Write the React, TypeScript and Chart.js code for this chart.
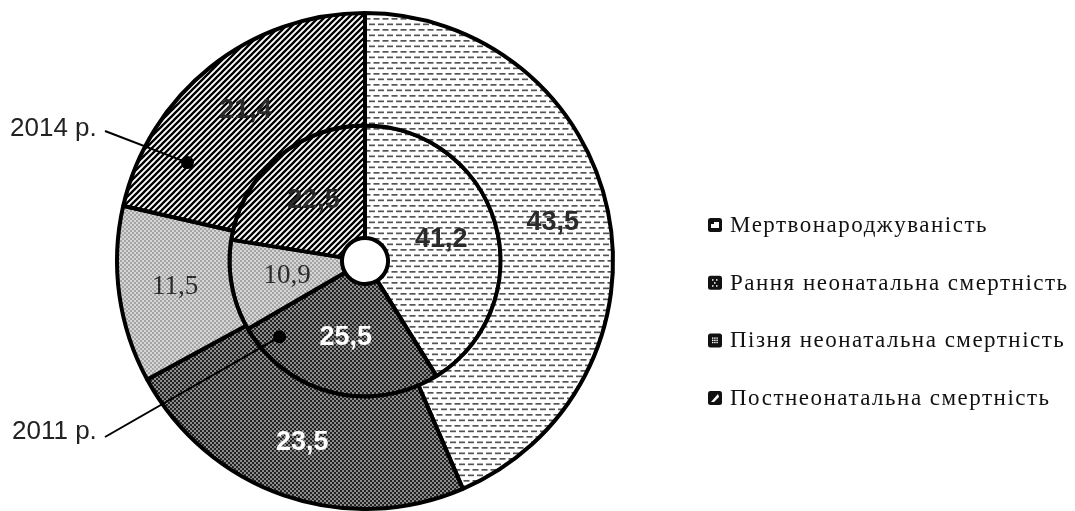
import React, { useEffect, useRef } from 'react';
import { Chart, registerables } from 'chart.js';

Chart.register(...registerables);

// categories (clockwise from 12 o'clock)
const categories = [
  'Мертвонароджуваність',
  'Рання неонатальна смертність',
  'Пізня неонатальна смертність',
  'Постнеонатальна смертність',
];
// outer ring = 2014, inner ring = 2011
const values2014 = [43.5, 23.5, 11.5, 21.4];
const values2011 = [41.2, 25.5, 10.9, 22.5];
const ringNames = ['2014 р.', '2011 р.'];

const patternKinds = ['dash', 'dark', 'light', 'hatch'];
const labelFonts = [
  'bold 27px "Liberation Sans", Arial, sans-serif',
  'bold 27px "Liberation Sans", Arial, sans-serif',
  '27px "Liberation Serif", "Times New Roman", serif',
  'bold 27px "Liberation Sans", Arial, sans-serif',
];
const labelColors = ['#2a2a2a', '#ffffff', '#2a2a2a', '#2a2a2a'];

function makePattern(kind: string): CanvasPattern {
  const c = document.createElement('canvas');
  const g = c.getContext('2d')!;
  if (kind === 'dash') {
    c.width = 9; c.height = 11;
    g.fillStyle = '#ffffff'; g.fillRect(0, 0, 9, 11);
    g.fillStyle = '#555555';
    g.fillRect(0, 1.5, 6, 1.7);
    g.fillRect(4.5, 7, 4.5, 1.7);
    g.fillRect(0, 7, 1.5, 1.7);
  } else if (kind === 'dark') {
    c.width = 4; c.height = 4;
    g.fillStyle = '#222222'; g.fillRect(0, 0, 4, 4);
    g.fillStyle = '#8c8c8c';
    g.fillRect(0, 0, 2, 2); g.fillRect(2, 2, 2, 2);
  } else if (kind === 'light') {
    c.width = 4; c.height = 4;
    g.fillStyle = '#d6d6d6'; g.fillRect(0, 0, 4, 4);
    g.fillStyle = '#a4a4a4';
    g.fillRect(0, 0, 2, 2); g.fillRect(2, 2, 2, 2);
  } else {
    c.width = 6; c.height = 6;
    g.fillStyle = '#ffffff'; g.fillRect(0, 0, 6, 6);
    g.strokeStyle = '#000000'; g.lineWidth = 2.3;
    g.beginPath();
    g.moveTo(-1, 7); g.lineTo(7, -1);
    g.moveTo(-1, 1); g.lineTo(1, -1);
    g.moveTo(5, 7); g.lineTo(7, 5);
    g.stroke();
  }
  return g.createPattern(c, 'repeat')!;
}

const fmt = (v: number) => v.toFixed(1).replace('.', ',');

// value labels on every slice
const sliceLabels = {
  id: 'sliceLabels',
  afterDatasetsDraw(chart: any) {
    const ctx = chart.ctx;
    ctx.save();
    ctx.textAlign = 'center';
    ctx.textBaseline = 'middle';
    chart.data.datasets.forEach((ds: any, di: number) => {
      chart.getDatasetMeta(di).data.forEach((arc: any, i: number) => {
        const p = arc.tooltipPosition();
        ctx.font = labelFonts[i];
        ctx.fillStyle = labelColors[i];
        ctx.fillText(fmt(ds.data[i]), p.x, p.y);
      });
    });
    ctx.restore();
  },
};

// "2014 р." / "2011 р." callouts pointing into the rings
const ringCallouts = {
  id: 'ringCallouts',
  afterDraw(chart: any) {
    const ctx = chart.ctx;
    const marks = [
      { di: 0, angle: -151, depth: 0.6, tx: 10, ty: 136, lx: 105, ly: 131 },
      { di: 1, angle: 138.4, depth: 0.81, tx: 12, ty: 439, lx: 105, ly: 437 },
    ];
    ctx.save();
    marks.forEach((m, k) => {
      const arc = chart.getDatasetMeta(m.di).data[0];
      const r = arc.innerRadius + m.depth * (arc.outerRadius - arc.innerRadius);
      const a = (m.angle * Math.PI) / 180;
      const px = arc.x + r * Math.cos(a);
      const py = arc.y + r * Math.sin(a);
      ctx.strokeStyle = '#000';
      ctx.lineWidth = 2;
      ctx.beginPath();
      ctx.moveTo(m.lx, m.ly);
      ctx.lineTo(px, py);
      ctx.stroke();
      ctx.fillStyle = '#000';
      ctx.beginPath();
      ctx.arc(px, py, 6.5, 0, Math.PI * 2);
      ctx.fill();
      ctx.font = '26px "Liberation Sans", Arial, sans-serif';
      ctx.fillStyle = '#222';
      ctx.textAlign = 'left';
      ctx.textBaseline = 'alphabetic';
      ctx.fillText(ringNames[k], m.tx, m.ty);
    });
    ctx.restore();
  },
};

// legend on the right with black square markers
const sideLegend = {
  id: 'sideLegend',
  afterDraw(chart: any) {
    const ctx = chart.ctx;
    const x = chart.chartArea.right - 2;
    ctx.save();
    categories.forEach((name, i) => {
      const y = 225 + i * 57.7;
      ctx.fillStyle = '#111';
      ctx.beginPath();
      ctx.roundRect(x, y - 7, 14, 14, 2.5);
      ctx.fill();
      ctx.fillStyle = '#fff';
      if (i === 0) {
        ctx.fillRect(x + 3, y - 3, 8, 6);
        ctx.fillStyle = '#111';
        ctx.fillRect(x + 3, y - 3, 3, 2);
      } else if (i === 1) {
        [[4, -3], [8, -3], [6, 0], [4, 3], [8, 3]].forEach(([dx, dy]) => ctx.fillRect(x + dx, y + dy - 0.5, 1.5, 1.5));
      } else if (i === 2) {
        for (let gx = 0; gx < 3; gx++) for (let gy = 0; gy < 3; gy++) ctx.fillRect(x + 4 + gx * 2.2, y - 3 + gy * 2.2, 1.4, 1.4);
      } else {
        ctx.beginPath();
        ctx.moveTo(x + 3, y + 4); ctx.lineTo(x + 10, y - 4); ctx.lineTo(x + 11, y - 1); ctx.lineTo(x + 6, y + 4);
        ctx.closePath();
        ctx.fill();
      }
      ctx.font = '23px "Liberation Serif", "Times New Roman", serif';
      (ctx as any).letterSpacing = '1.5px';
      ctx.fillStyle = '#111';
      ctx.textAlign = 'left';
      ctx.textBaseline = 'middle';
      ctx.fillText(name, x + 22, y + 1);
      (ctx as any).letterSpacing = '0px';
    });
    ctx.restore();
  },
};

const App: React.FC = () => {
  const canvasRef = useRef<HTMLCanvasElement>(null);
  const chartRef = useRef<Chart | null>(null);

  useEffect(() => {
    const ctx = canvasRef.current?.getContext('2d');
    if (!ctx) return;
    if (chartRef.current) chartRef.current.destroy();
    const fills = patternKinds.map(makePattern);

    chartRef.current = new Chart(ctx, {
      type: 'doughnut',
      data: {
        labels: categories,
        datasets: [
          { label: ringNames[0], data: values2014, backgroundColor: fills, borderColor: '#000', borderWidth: 4 },
          { label: ringNames[1], data: values2011, backgroundColor: fills, borderColor: '#000', borderWidth: 4 },
        ],
      },
      options: {
        animation: false,
        responsive: true,
        maintainAspectRatio: false,
        cutout: '9.3%',
        layout: { padding: { left: 20, right: 365, top: 11, bottom: 0 } },
        plugins: {
          legend: { display: false },
          tooltip: { enabled: false },
        },
      },
      plugins: [sliceLabels, ringCallouts, sideLegend],
    });

    return () => {
      if (chartRef.current) {
        chartRef.current.destroy();
        chartRef.current = null;
      }
    };
  }, []);

  return (
    <div style={{ position: 'absolute', left: 0, top: 0, width: 1075, height: 511, background: '#fff' }}>
      <canvas ref={canvasRef} />
    </div>
  );
};

export default App;
